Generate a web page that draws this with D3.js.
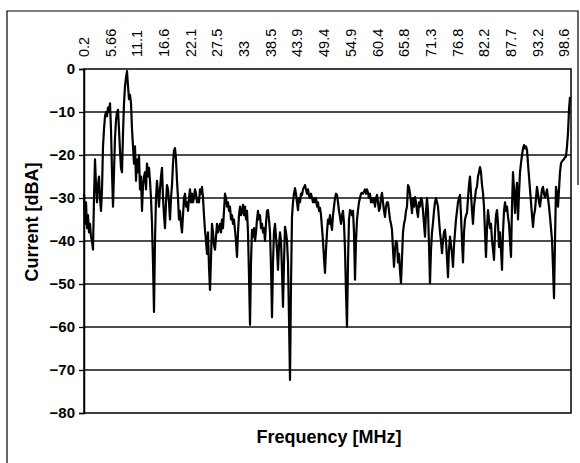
<!DOCTYPE html>
<html><head><meta charset="utf-8">
<script src="https://cdn.jsdelivr.net/npm/d3@7"></script>
<style>
html,body{margin:0;padding:0;background:#fff;}
svg{display:block;font-family:"Liberation Sans",Arial,sans-serif;}
</style></head>
<body><svg id="c" width="580" height="463"></svg>
<script>
const tickLabels = ["0.2","5.66","11.1","16.6","22.1","27.5","33","38.5","43.9","49.4","54.9","60.4","65.8","71.3","76.8","82.2","87.7","93.2","98.6"];
const yTicks = [0,-10,-20,-30,-40,-50,-60,-70,-80];
// measurement grid: first frequency and spacing of the samples (MHz)
const freqStart = 0.2;
const freqStep = 0.205;
// current in dBA, one sample per grid point
const current = [
-29,-36,-31,-37,-34,-38,-36,-39,-40,-42,-30,-21,-27,-31,-27,-25,-30,
-33,-28,-18,-14,-11,-10,-11,-9,-10,-8,-14,-24,-32,-24,-16,-12,-10,-9.5,-14,-19,-23,-24,-15,-8,-4,-2,-0.5,-4,-7,-6,-8,-14,-18,
-22,-18,-26,-21,-24,-20,-28,-25,-33,-27,-25,-24,-28,-22,-25,-23,-26,-30,-36,-45,-56.5,-40,-30,-26,-29,-32,-28,-25,-23,-30,
-34,-37,-31,-27,-28,-31,-35,-30,-27,-22,-19,-18.4,-21,-26,-30,-35,-33,-36,-38,-34,-30,-29,-32,-31,-33,-30,-28,-31,-29,-31,
-30,-28,-29,-31,-30,-31,-28,-29,-27.4,-30,-34,-37.5,-40,-43,-38,-46,-51.4,-44,-36,-38,-41,-42,-39,-36,-38,-37,-36,-38,-35,
-37,-33,-29,-30,-32,-31,-33,-32,-35,-34,-36,-35,-37.5,-40,-43.7,-38,-34,-32,-34,-33,-31.6,-34,-32,-35,-33,-38,-48,-59.5,
-45,-37.4,-39,-37,-40,-38,-35,-33,-35,-34,-37,-36,-38,-37,-40,-36,-33,-32.8,-35,-38,-46,-57.7,-45,-38,-36,-39,-42,-46.7,
-41,-38,-40,-47,-55.3,-45,-36.7,-38,-40,-45,-58,-72.3,-50,-34.4,-31,-29,-27.7,-29,-31,-32.8,-30,-31,-29,-29.3,-28,-27.5,
-27,-28,-29,-28,-29.5,-30,-29,-30,-31,-30,-31,-30,-32,-31,-33,-32.3,-34,-37,-40,-44,-47.4,-42,-38,-35,-36,-34,-36,-37.4,
-34,-32,-30,-29,-29.3,-31,-33,-34.4,-36,-34,-33,-36,-42,-52,-60,-45,-35,-32.8,-33,-34,-33,-38,-49,-40,-35,-32.8,-31,-30,
-29,-28.8,-29,-28.5,-28,-29,-28,-28.8,-30,-29,-31,-30,-31,-30,-32,-30,-29.3,-31,-33,-32.3,-30,-28.8,-31,-33,-34.4,-32,-31,
-31,-33,-35,-36,-37.4,-42,-46,-42,-40,-40.5,-45,-43,-47,-49.8,-44,-38,-36,-35,-33,-32,-27,-27.5,-29,-31,-33.5,-30,-32,
-29.8,-31,-33,-34.4,-31,-32,-30,-30.5,-33,-36,-39,-33,-30,-33,-41,-49.8,-42,-38,-35.8,-33,-31,-30,-31,-32,-35,-38,-40,
-42.8,-40,-38,-37.4,-40,-44,-48.4,-42,-39,-41,-43,-46,-41,-38,-35,-33,-31,-30,-29.3,-34,-40,-45,-38,-35,-34,-33.5,-30,
-27,-25,-29,-33,-36,-32,-30,-28,-27.4,-25,-24,-22.8,-24,-27,-28.8,-32,-38,-43.7,-37,-32.8,-35,-37,-36,-39.8,-42,-44.4,
-38,-34,-32.8,-36,-41.4,-38,-42,-46.7,-38,-33,-31,-33,-32,-34.4,-36,-40,-43.7,-32,-24,-28,-33.5,-29,-26.5,-35,-29,-24,
-21.9,-20,-18.5,-17.7,-18.5,-18,-18.8,-22,-25,-28,-31,-34,-36.7,-34,-32.8,-30,-27.4,-29,-31,-32,-30,-28,-27.4,-29,-29.8,
-29,-28,-30,-32,-34.4,-37,-39.8,-46,-53.3,-40,-27.4,-29,-32,-28,-24,-21.9,-21.5,-21.2,-21,-20.5,-20.4,-18,-14.9,-9.5,-6.5
];
const freq = current.map((_, i) => +(freqStart + i * freqStep).toFixed(3));

const svg = d3.select("#c");
const L=84,R=571,T=69,B=413;
const x = d3.scaleLinear().domain([freqStart, freq[freq.length-1]]).range([L,R-1]);
const y = d3.scaleLinear().domain([-80,0]).range([B,T]);

// outer frame (partial, as in scan)
svg.append("path").attr("d","M7,463V11H578V185").attr("fill","none").attr("stroke","#000").attr("stroke-width",1.2);

// gridlines
svg.append("g").selectAll("line").data(yTicks.filter(d=>d<0&&d>-80)).join("line")
  .attr("x1",L).attr("x2",R).attr("y1",d=>y(d)).attr("y2",d=>y(d))
  .attr("stroke","#111").attr("stroke-width",1.3);

// plot border
svg.append("rect").attr("x",L).attr("y",T).attr("width",R-L).attr("height",B-T)
  .attr("fill","none").attr("stroke","#000").attr("stroke-width",1.5);

// y axis
const ya = svg.append("g").attr("transform",`translate(${L},0)`)
  .call(d3.axisLeft(y).tickValues(yTicks).tickSize(5).tickPadding(4).tickFormat(d3.format("d")));
ya.select(".domain").attr("stroke","#000").attr("stroke-width",1.5);
ya.selectAll(".tick line").attr("stroke","#000").attr("stroke-width",1.3);
ya.selectAll(".tick text").attr("font-size",15).attr("font-weight","bold").attr("fill","#000")
  .attr("font-family","'Liberation Sans',Arial,sans-serif");

// top tick labels (rotated)
const tickVals = tickLabels.map(Number);
svg.append("g").selectAll("text").data(tickLabels).join("text")
  .attr("transform",(d,i)=>`translate(${x(tickVals[i])+5},57) rotate(-90)`)
  .attr("text-anchor","start").attr("font-size",14.5).attr("fill","#000")
  .text(d=>d);

// line
svg.append("path").datum(freq.map((f,i)=>[f,current[i]]))
  .attr("d",d3.line().x(d=>x(d[0])).y(d=>y(d[1])))
  .attr("fill","none").attr("stroke","#000").attr("stroke-width",2.2).attr("stroke-linejoin","round");

// titles
svg.append("text").attr("transform","translate(38,222) rotate(-90)").attr("text-anchor","middle")
  .attr("font-size",18).attr("font-weight","bold").text("Current [dBA]");
svg.append("text").attr("x",329).attr("y",443).attr("text-anchor","middle")
  .attr("font-size",18).attr("font-weight","bold").text("Frequency [MHz]");
</script></body></html>
